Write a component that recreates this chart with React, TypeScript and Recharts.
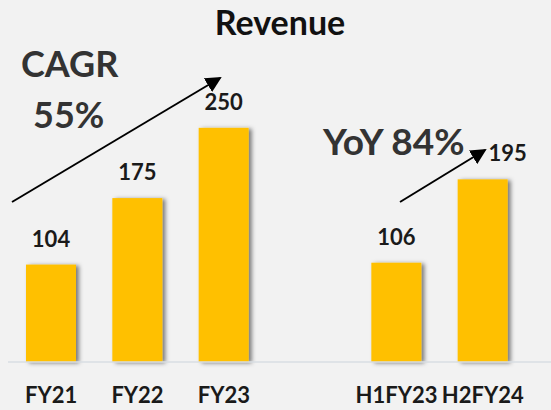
import { BarChart, Bar, XAxis, YAxis } from 'recharts';

// revenue by period, empty slot separates annual from half-year figures
const periods = ['FY21', 'FY22', 'FY23', '', 'H1FY23', 'H2FY24'];
const revenue = [104, 175, 250, null, 106, 195];
const yDomain = [0, 300];

const chartData = periods.map((period, i) => ({ period, revenue: revenue[i] }));

const FONT = 'Lato, "Open Sans", sans-serif';

// bar with a soft shadow on the right, value printed above it
const ShadowBar = (props: any) => {
  const { x, y, width, height, payload } = props;
  if (!height || height <= 0 || payload.revenue == null) return null;
  // last label is nudged right so the YoY arrow doesn't cover it
  const dx = payload.period === 'H2FY24' ? 25 : 0;
  return (
    <g>
      <defs>
        <filter id="barShadow" x="-20%" y="-10%" width="150%" height="120%">
          <feDropShadow dx="3" dy="1" stdDeviation="2" floodColor="#000" floodOpacity="0.5" />
        </filter>
      </defs>
      <rect x={x} y={y} width={width} height={height} fill="#FFC000" filter="url(#barShadow)" />
      <text
        x={x + width / 2 + dx}
        y={y - 18}
        textAnchor="middle"
        fontFamily={FONT}
        fontWeight={700}
        fontSize={22}
        fill="#1a1a1a"
      >
        {payload.revenue}
      </text>
    </g>
  );
};

const PeriodTick = (props: any) => {
  const { x, y, payload } = props;
  return (
    <text x={x} y={y + 33} textAnchor="middle" fontFamily={FONT} fontWeight={700} fontSize={22} fill="#1a1a1a">
      {payload.value}
    </text>
  );
};

export default function App() {
  return (
    <div style={{ position: 'absolute', left: 0, top: 0, width: 551, height: 410, background: '#F2F2F2' }}>
      <BarChart
        width={551}
        height={410}
        data={chartData}
        margin={{ top: 81, right: 0, bottom: 18, left: 8 }}
      >
        <XAxis
          dataKey="period"
          height={30}
          axisLine={{ stroke: '#D9DEE3', strokeWidth: 1.5 }}
          tickLine={false}
          tick={<PeriodTick />}
          interval={0}
          padding={{ left: 0, right: 25 }}
        />
        <YAxis hide domain={yDomain} />
        <Bar dataKey="revenue" barSize={50} shape={<ShadowBar />} isAnimationActive={false} />
      </BarChart>

      <svg width={551} height={410} style={{ position: 'absolute', left: 0, top: 0, pointerEvents: 'none' }}>
        <defs>
          <marker id="arrowHead" markerWidth="8" markerHeight="8" refX="7" refY="4" orient="auto" markerUnits="strokeWidth">
            <path d="M0,0 L8,4 L0,8 z" fill="#000" />
          </marker>
        </defs>
        <text x={280} y={35} textAnchor="middle" fontFamily={FONT} fontWeight={700} fontSize={34} fill="#111">
          Revenue
        </text>
        <text x={21} y={77} fontFamily={FONT} fontWeight={700} fontSize={36} fill="#333">CAGR</text>
        <text x={33} y={128} fontFamily={FONT} fontWeight={700} fontSize={36} fill="#333">55%</text>
        <text x={323} y={155} fontFamily={FONT} fontWeight={700} fontSize={37} fill="#333">YoY 84%</text>
        <line x1={12} y1={202} x2={220} y2={78} stroke="#000" strokeWidth={2} markerEnd="url(#arrowHead)" />
        <line x1={400} y1={202} x2={485} y2={150} stroke="#000" strokeWidth={2} markerEnd="url(#arrowHead)" />
      </svg>
    </div>
  );
}
